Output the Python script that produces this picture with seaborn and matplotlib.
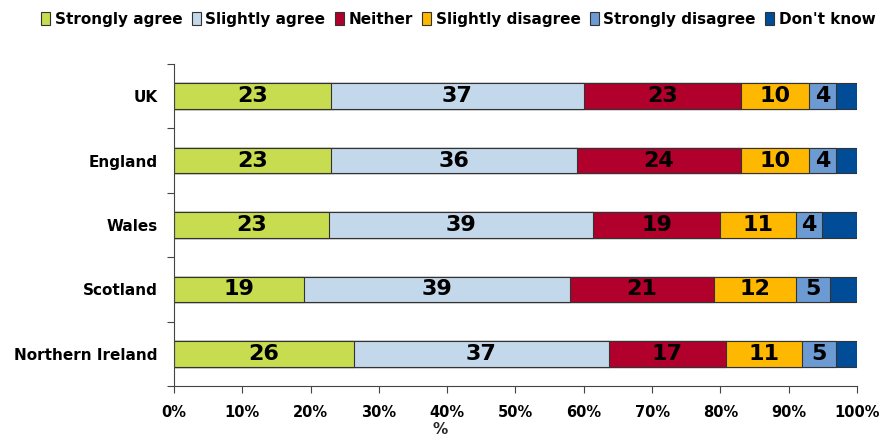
import numpy as np
import pandas as pd
import matplotlib
matplotlib.use("Agg")
import matplotlib.pyplot as plt
import seaborn as sns
from matplotlib.patches import Patch

# datos (%)
regions = ["UK", "England", "Wales", "Scotland", "Northern Ireland"]
responses = ["Strongly agree", "Slightly agree", "Neither",
             "Slightly disagree", "Strongly disagree", "Don't know"]
strongly_agree = [23.0, 23.0, 22.7, 19.0, 26.3]
slightly_agree = [37.0, 36.0, 38.6, 39.0, 37.4]
neither = [23.0, 24.0, 18.7, 21.0, 17.1]
slightly_disagree = [10.0, 10.0, 11.1, 12.0, 11.1]
strongly_disagree = [4.0, 4.0, 3.8, 5.0, 5.0]
dont_know = [3.0, 3.0, 5.1, 4.0, 3.1]
xtick_labels = ["0%", "10%", "20%", "30%", "40%", "50%",
                "60%", "70%", "80%", "90%", "100%"]

colors = ["#C8DC50", "#C3D8EA", "#B0002B", "#FFB800", "#6B9BD2", "#004C97"]

series = [strongly_agree, slightly_agree, neither,
          slightly_disagree, strongly_disagree, dont_know]
df = pd.DataFrame(dict(zip(responses, series)), index=regions)
cum = df.cumsum(axis=1)

sns.set_style("white")
plt.rcParams["font.family"] = ["DejaVu Sans"]
plt.rcParams["text.color"] = "black"
plt.rcParams["xtick.labelcolor"] = "black"
plt.rcParams["ytick.labelcolor"] = "black"

fig = plt.figure(figsize=(8.9, 4.37), dpi=100)
ax = fig.add_axes([0.1955, 0.1167, 0.7674, 0.7368])

# barras apiladas: se dibuja de la suma mayor a la menor
for resp, col in reversed(list(zip(responses, colors))):
    sns.barplot(x=cum[resp].values, y=regions, orient="h", color=col,
                width=0.4, edgecolor="#333333", linewidth=0.8,
                saturation=1, ax=ax)

# etiquetas centradas en cada tramo (menos "Don't know")
for j, resp in enumerate(responses[:-1]):
    left = cum[resp] - df[resp]
    for i, reg in enumerate(regions):
        v = df.loc[reg, resp]
        ax.text(left.iloc[i] + v / 2, i, f"{round(v):d}", ha="center",
                va="center", fontsize=16, fontweight="bold", color="black")

ax.set_xlim(0, 100)
ax.set_ylim(4.5, -0.5)
ax.set_xticks(np.arange(0, 101, 10))
ax.set_xticklabels(xtick_labels, fontsize=10.5, fontweight="bold")
ax.set_yticks(np.arange(-0.5, 5, 1))
ax.set_yticklabels([])
ax.set_yticks(range(len(regions)), minor=True)
ax.set_yticklabels(regions, minor=True, fontsize=11, fontweight="bold")
ax.tick_params(axis="y", which="minor", length=0, pad=12)
ax.tick_params(axis="y", which="major", length=5, width=0.8,
               color="#444444", direction="out", left=True)
ax.tick_params(axis="x", length=5, width=0.8, color="#444444",
               direction="out", bottom=True, pad=9)
ax.set_xlabel("%", fontsize=11, fontweight="bold")
ax.xaxis.set_label_coords(0.39, -0.112)
ax.set_ylabel("")

for s in ["top", "right"]:
    ax.spines[s].set_visible(False)
for s in ["left", "bottom"]:
    ax.spines[s].set_color("#444444")
    ax.spines[s].set_linewidth(0.8)

handles = [Patch(facecolor=c, edgecolor="#333333", linewidth=0.8, label=r)
           for r, c in zip(responses, colors)]
fig.legend(handles=handles, loc="upper center", bbox_to_anchor=(0.515, 1.005),
           ncol=6, frameon=False, handlelength=0.6, handleheight=0.9,
           handletextpad=0.3, columnspacing=0.6,
           prop={"size": 11, "weight": "bold"})

plt.savefig("out.png", dpi=100)
